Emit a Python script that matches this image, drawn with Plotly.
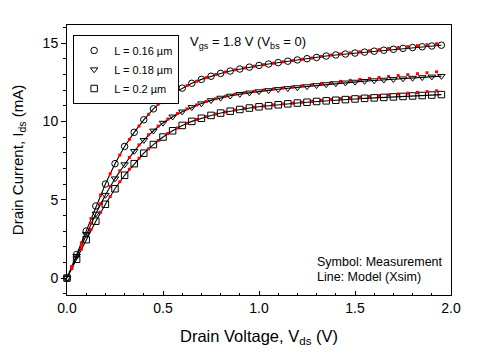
import plotly.graph_objects as go

# Drain voltage grid for measured symbols (V)
vds = [0.00, 0.05, 0.10, 0.15, 0.20, 0.25, 0.30, 0.35, 0.40, 0.45,
       0.50, 0.55, 0.60, 0.65, 0.70, 0.75, 0.80, 0.85, 0.90, 0.95,
       1.00, 1.05, 1.10, 1.15, 1.20, 1.25, 1.30, 1.35, 1.40, 1.45,
       1.50, 1.55, 1.60, 1.65, 1.70, 1.75, 1.80, 1.85, 1.90, 1.95]

# Drain current (mA), L = 0.16 um
ids_016 = [0.0, 1.5, 3.0, 4.6, 6.0, 7.3, 8.4, 9.3, 10.1, 10.8,
           11.33, 11.77, 12.12, 12.43, 12.68, 12.88, 13.06, 13.21, 13.34, 13.46,
           13.57, 13.66, 13.75, 13.84, 13.92, 14.0, 14.08, 14.17, 14.24, 14.3,
           14.36, 14.42, 14.48, 14.54, 14.6, 14.66, 14.71, 14.76, 14.81, 14.86]

# Drain current (mA), L = 0.18 um
ids_018 = [0.0, 1.4, 2.8, 4.1, 5.3, 6.35, 7.25, 8.1, 8.8, 9.4,
           9.9, 10.3, 10.62, 10.9, 11.14, 11.34, 11.5, 11.63, 11.74, 11.83,
           11.91, 11.98, 12.05, 12.11, 12.17, 12.23, 12.3, 12.36, 12.42, 12.47,
           12.52, 12.57, 12.61, 12.65, 12.69, 12.73, 12.77, 12.81, 12.85, 12.89]

# Drain current (mA), L = 0.2 um
ids_020 = [0.0, 1.2, 2.45, 3.63, 4.71, 5.7, 6.56, 7.3, 7.97, 8.52,
           9.0, 9.4, 9.74, 10.0, 10.2, 10.38, 10.53, 10.65, 10.76, 10.85,
           10.93, 11.0, 11.06, 11.12, 11.17, 11.22, 11.27, 11.31, 11.35, 11.39,
           11.43, 11.47, 11.5, 11.53, 11.56, 11.59, 11.62, 11.65, 11.68, 11.71]

# Secondary (red) points
vds_red = [0.025, 0.075, 0.125, 0.175, 0.225, 0.275, 0.325, 0.375, 0.425, 0.475,
           0.525, 0.575, 0.625, 0.675, 0.725, 0.775, 0.825, 0.875, 0.925, 0.975,
           1.025, 1.075, 1.125, 1.175, 1.225, 1.275, 1.325, 1.375, 1.425, 1.475,
           1.525, 1.575, 1.625, 1.675, 1.725, 1.775, 1.825, 1.875, 1.925]

red_016 = [0.75, 2.25, 3.8, 5.3, 6.65, 7.85, 8.85, 9.7, 10.45, 11.1,
           11.55, 11.95, 12.28, 12.56, 12.79, 12.99, 13.15, 13.29, 13.41, 13.52,
           13.62, 13.71, 13.8, 13.88, 13.96, 14.04, 14.14, 14.23, 14.3, 14.37,
           14.44, 14.51, 14.58, 14.65, 14.71, 14.77, 14.83, 14.89, 14.95]

red_018 = [0.7, 2.1, 3.5, 4.75, 5.85, 6.85, 7.7, 8.5, 9.15, 9.7,
           10.15, 10.5, 10.8, 11.05, 11.27, 11.45, 11.6, 11.73, 11.83, 11.92,
           12.0, 12.07, 12.14, 12.2, 12.27, 12.34, 12.41, 12.48, 12.55, 12.62,
           12.68, 12.74, 12.8, 12.86, 12.92, 12.98, 13.04, 13.1, 13.16]

red_020 = [0.6, 1.85, 3.1, 4.2, 5.2, 6.15, 6.95, 7.65, 8.25, 8.78,
           9.22, 9.58, 9.88, 10.12, 10.3, 10.47, 10.6, 10.72, 10.82, 10.9,
           10.98, 11.05, 11.11, 11.16, 11.22, 11.28, 11.34, 11.4, 11.45, 11.5,
           11.55, 11.6, 11.65, 11.7, 11.75, 11.8, 11.85, 11.9, 11.95]

labels = ["L = 0.16 µm", "L = 0.18 µm", "L = 0.2 µm"]
symbols = ["circle-open", "triangle-down-open", "square-open"]
meas = [ids_016, ids_018, ids_020]
reds = [red_016, red_018, red_020]

FONT = "Liberation Sans, Arial, sans-serif"

fig = go.Figure()

# model lines
for y in meas:
    fig.add_trace(go.Scatter(x=vds, y=y, mode="lines", line=dict(color="black", width=1.1),
                             showlegend=False, hoverinfo="skip", cliponaxis=False))
# red points
for y in reds:
    fig.add_trace(go.Scatter(x=vds_red, y=y, mode="markers",
                             marker=dict(symbol="square", size=3, color="red"),
                             showlegend=False, cliponaxis=False))
# measurement symbols
for lab, sym, y in zip(labels, symbols, meas):
    fig.add_trace(go.Scatter(x=vds, y=y, mode="markers", name=lab,
                             marker=dict(symbol=sym, size=6.5, color="black",
                                         line=dict(color="black", width=1)),
                             cliponaxis=False))

# page body has an 8px default margin, so the figure is sized to fit the window
fig.update_layout(
    width=470, height=353,
    margin=dict(l=59, r=27, t=17, b=66),
    paper_bgcolor="white", plot_bgcolor="white",
    font=dict(family=FONT, size=14, color="black"),
    showlegend=True,
    legend=dict(x=0.016, y=0.963, xanchor="left", yanchor="top",
                bgcolor="white", bordercolor="black", borderwidth=1,
                font=dict(size=11), tracegroupgap=0, itemwidth=30),
    xaxis=dict(range=[0, 2.0], tickvals=[0, 0.5, 1.0, 1.5, 2.0],
               ticktext=["0.0", "0.5", "1.0", "1.5", "2.0"],
               ticks="inside", ticklen=4, tickcolor="black", tickwidth=1,
               minor=dict(dtick=0.1, ticks="inside", ticklen=2, tickcolor="black"),
               showline=True, linecolor="black", linewidth=1, mirror=True,
               showgrid=False, zeroline=False, automargin=False,
               title=dict(text="Drain Voltage, V<sub>ds</sub> (V)", font=dict(size=16.5))),
    yaxis=dict(range=[-1.08, 16.15], tickvals=[0, 5, 10, 15],
               ticks="outside", ticklen=5, tickcolor="black", tickwidth=1,
               minor=dict(dtick=1, ticks="outside", ticklen=3, tickcolor="black"),
               showline=True, linecolor="black", linewidth=1, mirror=True,
               showgrid=False, zeroline=False, automargin=False,
               title=dict(text="Drain Current, I<sub>ds</sub> (mA)", font=dict(size=15))),
    annotations=[
        dict(xref="paper", yref="paper", x=0.315, y=0.935, xanchor="left", yanchor="middle",
             text="V<sub>gs</sub> = 1.8 V (V<sub>bs</sub> = 0)", showarrow=False,
             font=dict(size=13)),
        dict(xref="paper", yref="paper", x=0.645, y=0.122, xanchor="left", yanchor="middle",
             text="Symbol: Measurement", showarrow=False, font=dict(size=12.5)),
        dict(xref="paper", yref="paper", x=0.645, y=0.067, xanchor="left", yanchor="middle",
             text="Line: Model (Xsim)", showarrow=False, font=dict(size=12.5)),
    ],
)

fig.write_html("out.html")
